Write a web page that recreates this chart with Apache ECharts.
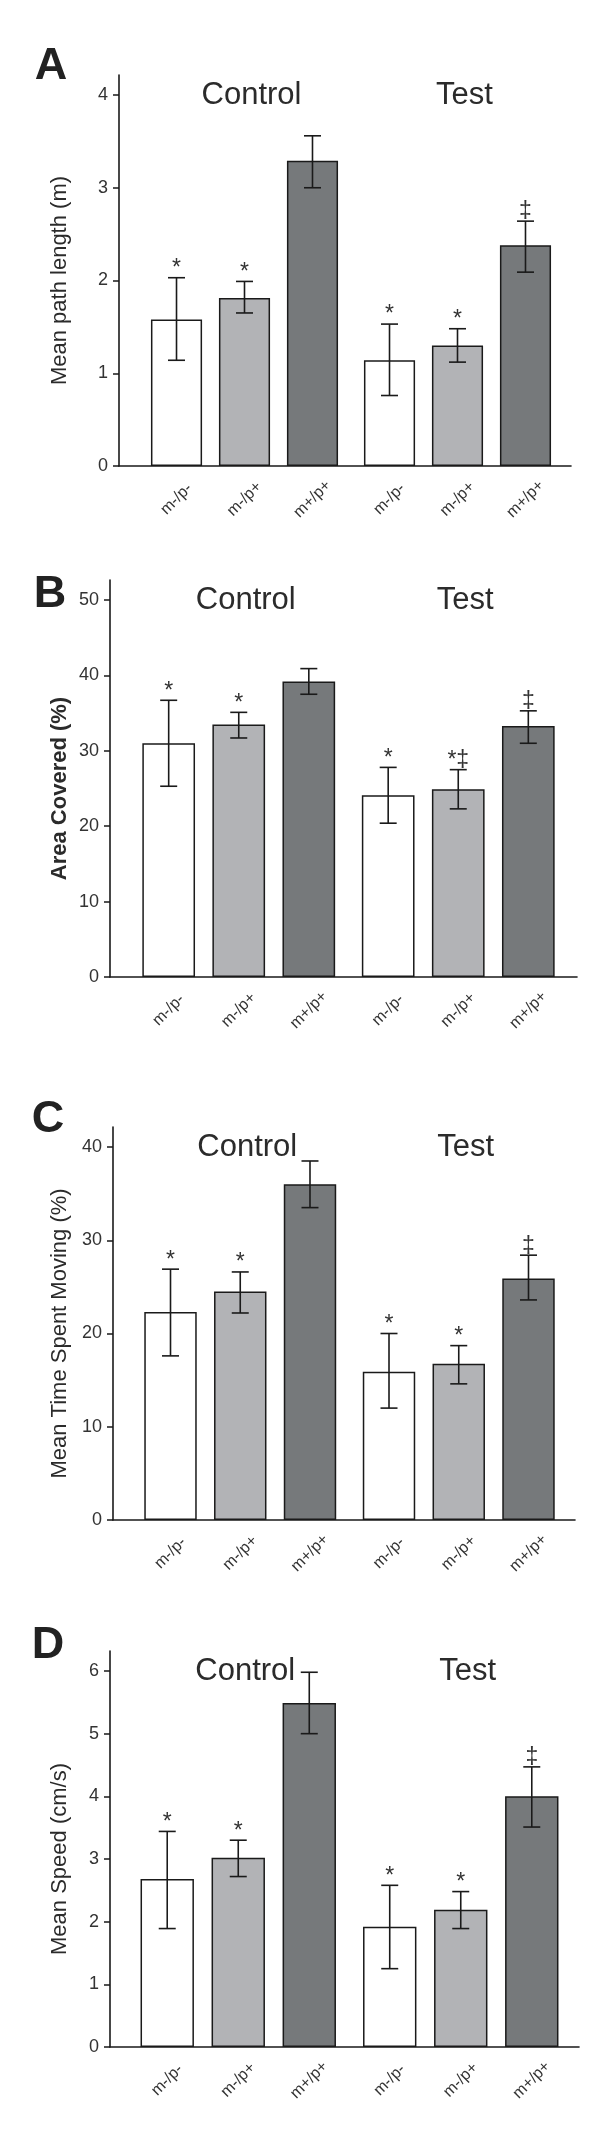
<!DOCTYPE html>
<html><head><meta charset="utf-8">
<script src="https://cdn.jsdelivr.net/npm/echarts@6/dist/echarts.min.js"></script>
<style>html,body{margin:0;padding:0;background:#fff}#c{width:600px;height:2140px}</style>
</head><body><div id="c"></div>
<script>
// ---------- DATA ----------
const groups = ['Control', 'Test'];
const genotypes = ['m-/p-', 'm-/p+', 'm+/p+'];

// Panel A: Mean path length (m)
const pathTicks = [0, 1, 2, 3, 4];
const pathMeanControl = [1.58, 1.81, 3.29];
const pathMeanTest = [1.14, 1.30, 2.38];
const pathHighControl = [2.03, 1.99, 3.56];
const pathLowControl = [1.14, 1.65, 3.00];
const pathHighTest = [1.53, 1.48, 2.64];
const pathLowTest = [0.76, 1.12, 2.09];
const pathMarkControl = ['*', '*', ''];
const pathMarkTest = ['*', '*', '‡'];

// Panel B: Area Covered (%)
const areaTicks = [0, 10, 20, 30, 40, 50];
const areaMeanControl = [31.0, 33.5, 39.2];
const areaMeanTest = [24.1, 24.9, 33.3];
const areaHighControl = [36.7, 35.1, 40.9];
const areaLowControl = [25.3, 31.7, 37.5];
const areaHighTest = [27.8, 27.5, 35.3];
const areaLowTest = [20.4, 22.3, 31.0];
const areaMarkControl = ['*', '*', ''];
const areaMarkTest = ['*', '*‡', '‡'];

// Panel C: Mean Time Spent Moving (%)
const timeTicks = [0, 10, 20, 30, 40];
const timeMeanControl = [22.3, 24.5, 36.0];
const timeMeanTest = [15.9, 16.75, 25.9];
const timeHighControl = [26.9, 26.6, 38.5];
const timeLowControl = [17.6, 22.2, 33.5];
const timeHighTest = [20.0, 18.7, 28.4];
const timeLowTest = [12.0, 14.6, 23.6];
const timeMarkControl = ['*', '*', ''];
const timeMarkTest = ['*', '*', '‡'];

// Panel D: Mean Speed (cm/s)
const speedTicks = [0, 1, 2, 3, 4, 5, 6];
const speedMeanControl = [2.68, 3.02, 5.49];
const speedMeanTest = [1.92, 2.19, 4.00];
const speedHighControl = [3.44, 3.30, 5.98];
const speedLowControl = [1.89, 2.72, 5.00];
const speedHighTest = [2.58, 2.48, 4.47];
const speedLowTest = [1.25, 1.89, 3.51];
const speedMarkControl = ['*', '*', ''];
const speedMarkTest = ['*', '*', '‡'];

// ---------- ASSEMBLY ----------
const panels = [
  {letter: 'A', name: 'Mean path length (m)', bold: false, ticks: pathTicks,
   mean: [pathMeanControl, pathMeanTest], high: [pathHighControl, pathHighTest],
   low: [pathLowControl, pathLowTest], mark: [pathMarkControl, pathMarkTest]},
  {letter: 'B', name: 'Area Covered (%)', bold: true, ticks: areaTicks,
   mean: [areaMeanControl, areaMeanTest], high: [areaHighControl, areaHighTest],
   low: [areaLowControl, areaLowTest], mark: [areaMarkControl, areaMarkTest]},
  {letter: 'C', name: 'Mean Time Spent Moving (%)', bold: false, ticks: timeTicks,
   mean: [timeMeanControl, timeMeanTest], high: [timeHighControl, timeHighTest],
   low: [timeLowControl, timeLowTest], mark: [timeMarkControl, timeMarkTest]},
  {letter: 'D', name: 'Mean Speed (cm/s)', bold: false, ticks: speedTicks,
   mean: [speedMeanControl, speedMeanTest], high: [speedHighControl, speedHighTest],
   low: [speedLowControl, speedLowTest], mark: [speedMarkControl, speedMarkTest]}
];

// layout (pixels)
const layout = [
  {axisX: 119, axisEnd: 571, left: 138, right: 564, top: 95, bottom: 466, lx: 51, ly: 67},
  {axisX: 110, axisEnd: 577, left: 129, right: 568, top: 600, bottom: 977, lx: 50, ly: 595},
  {axisX: 113, axisEnd: 575, left: 131, right: 568, top: 1147, bottom: 1520, lx: 48, ly: 1120},
  {axisX: 110, axisEnd: 579, left: 127, right: 572, top: 1671, bottom: 2047, lx: 48, ly: 1646}
];

const W = 600, OVER = 20;
const FONT = '"Liberation Sans", Arial, Helvetica, sans-serif';
const barColors = ['#ffffff', '#b2b3b6', '#76797b'];
const BAR_W = 0.24, BAR_GAP = 0.33;
const ink = '#1a1a1a';

const grid = [], xAxis = [], yAxis = [], series = [], graphic = [];

panels.forEach((p, k) => {
  const L = layout[k];
  const h = L.bottom - L.top;
  const yMax = p.ticks[p.ticks.length - 1];
  const fg = 2 * k, dg = 2 * k + 1;

  grid.push({left: L.axisX, right: W - L.axisEnd, top: L.top - OVER, height: h + OVER});
  grid.push({left: L.left, right: W - L.right, top: L.top, height: h});

  // frame axes
  xAxis.push({gridIndex: fg, type: 'value', min: 0, max: 1,
    axisLine: {show: true, onZero: false, lineStyle: {color: ink, width: 1.6}},
    axisTick: {show: false}, axisLabel: {show: false}, splitLine: {show: false}});
  yAxis.push({gridIndex: fg, type: 'value', min: 0, max: yMax * (h + OVER) / h,
    axisLine: {show: true, onZero: false, lineStyle: {color: ink, width: 1.6}},
    axisTick: {show: true, length: 6, customValues: p.ticks, lineStyle: {color: ink, width: 1.5}},
    axisLabel: {show: true, customValues: p.ticks, margin: 11, fontSize: 18, color: '#333', fontFamily: FONT},
    splitLine: {show: false}});

  // data axes
  xAxis.push({gridIndex: dg, type: 'category', data: groups, position: 'top',
    axisLine: {show: false}, axisTick: {show: false}, splitLine: {show: false},
    axisLabel: {show: true, margin: 0, verticalAlign: 'middle', fontSize: 31, color: '#2b2b2b',
      fontFamily: FONT, padding: [0, 0, 0, 14], interval: 0}});
  yAxis.push({gridIndex: dg, type: 'value', min: 0, max: yMax,
    name: p.name, nameLocation: 'middle', nameGap: L.left - 71,
    nameTextStyle: {fontSize: 22, color: '#2b2b2b', fontFamily: FONT, fontWeight: p.bold ? 'bold' : 'normal'},
    axisLine: {show: false}, axisTick: {show: false}, axisLabel: {show: false}, splitLine: {show: false}});

  genotypes.forEach((g, i) => {
    series.push({type: 'bar', name: g, xAxisIndex: dg, yAxisIndex: dg,
      data: [p.mean[0][i], p.mean[1][i]],
      barWidth: (BAR_W * 100) + '%', barGap: (BAR_GAP * 100) + '%',
      itemStyle: {color: barColors[i], borderColor: ink, borderWidth: 1.5},
      label: {show: true, position: 'bottom', distance: 33, rotate: 45, formatter: g,
        align: 'center', verticalAlign: 'middle', fontSize: 16, color: '#333', fontFamily: FONT},
      silent: true, animation: false});
  });

  const rows = [], marks = [];
  groups.forEach((grp, gi) => genotypes.forEach((g, i) => {
    rows.push([gi, i, p.low[gi][i], p.high[gi][i]]);
    marks.push(p.mark[gi][i]);
  }));
  series.push({type: 'custom', xAxisIndex: dg, yAxisIndex: dg, data: rows, clip: false, z: 5,
    silent: true, animation: false,
    renderItem: function (params, api) {
      const cat = api.value(0), gi = api.value(1), lo = api.value(2), hi = api.value(3);
      const band = api.size([1, 0])[0];
      const bw = band * BAR_W, gap = bw * BAR_GAP;
      const cx = api.coord([cat, 0])[0] + (gi - 1) * (bw + gap);
      const yh = api.coord([cat, hi])[1], yl = api.coord([cat, lo])[1];
      const cap = 8.5;
      const ls = {stroke: ink, lineWidth: 1.6};
      const children = [
        {type: 'line', shape: {x1: cx, y1: yh, x2: cx, y2: yl}, style: ls},
        {type: 'line', shape: {x1: cx - cap, y1: yh, x2: cx + cap, y2: yh}, style: ls},
        {type: 'line', shape: {x1: cx - cap, y1: yl, x2: cx + cap, y2: yl}, style: ls}
      ];
      const m = marks[params.dataIndex];
      if (m) {
        children.push({type: 'text', x: cx, y: yh - 9,
          style: {text: m, fill: '#333', font: '23px ' + FONT, align: 'center', verticalAlign: 'middle',
            textAlign: 'center', textVerticalAlign: 'middle'}});
      }
      return {type: 'group', children: children};
    }});

  graphic.push({type: 'text', x: L.lx, y: L.ly, z: 10,
    style: {text: p.letter, fill: '#222', font: 'bold 45px ' + FONT, align: 'center', verticalAlign: 'middle',
      textAlign: 'center', textVerticalAlign: 'middle'}});
});

const chart = echarts.init(document.getElementById('c'), null, {renderer: 'canvas'});
chart.setOption({animation: false, backgroundColor: '#fff', grid, xAxis, yAxis, series, graphic});
</script>
</body></html>
